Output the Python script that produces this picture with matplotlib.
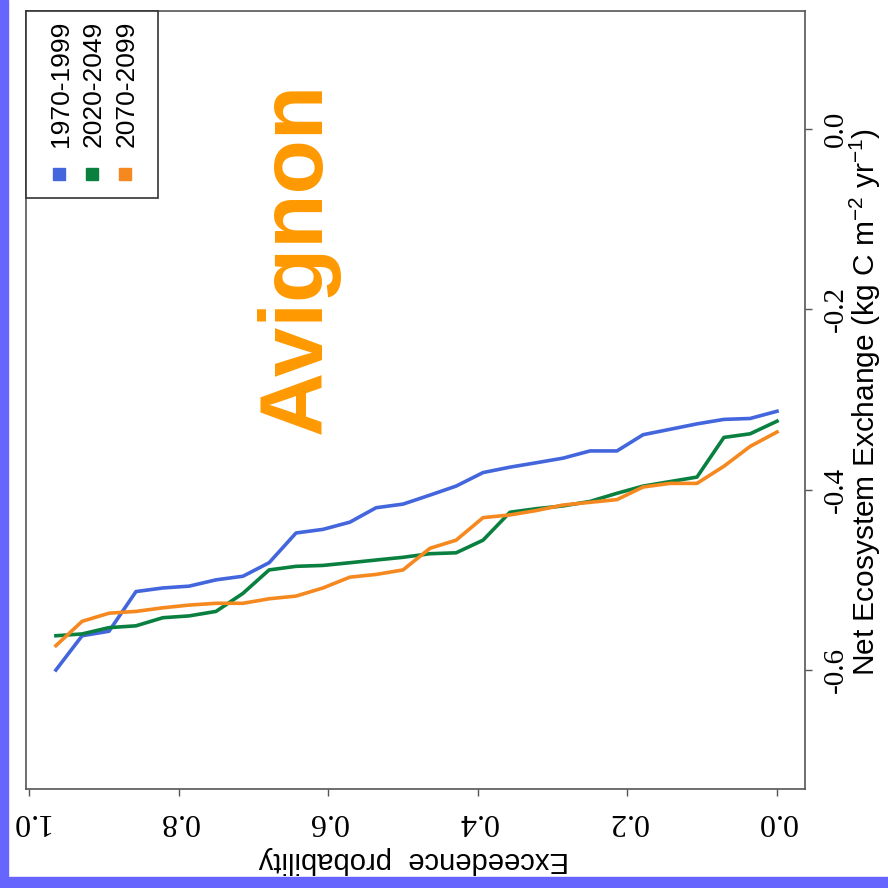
import matplotlib.pyplot as plt
from matplotlib.patches import Rectangle

# exceedance probability (plotting positions) and sorted NEE per period
prob = [0.000, 0.036, 0.071, 0.107, 0.143, 0.179, 0.214, 0.250, 0.286, 0.321,
        0.357, 0.393, 0.429, 0.464, 0.500, 0.536, 0.571, 0.607, 0.643, 0.679,
        0.714, 0.750, 0.786, 0.821, 0.857, 0.893, 0.929, 0.964]

nee_1970 = [-0.313, -0.321, -0.322, -0.327, -0.333, -0.339, -0.357, -0.357, -0.365, -0.370,
            -0.375, -0.381, -0.396, -0.406, -0.416, -0.420, -0.436, -0.444, -0.448, -0.481,
            -0.496, -0.500, -0.507, -0.509, -0.513, -0.557, -0.562, -0.600]

nee_2020 = [-0.324, -0.338, -0.342, -0.386, -0.391, -0.396, -0.404, -0.413, -0.418, -0.421,
            -0.425, -0.456, -0.470, -0.471, -0.475, -0.478, -0.481, -0.484, -0.485, -0.489,
            -0.515, -0.535, -0.540, -0.542, -0.551, -0.553, -0.560, -0.562]

nee_2070 = [-0.336, -0.352, -0.374, -0.393, -0.393, -0.397, -0.411, -0.414, -0.417, -0.423,
            -0.428, -0.431, -0.456, -0.465, -0.489, -0.494, -0.497, -0.509, -0.518, -0.521,
            -0.526, -0.526, -0.528, -0.531, -0.535, -0.537, -0.546, -0.573]

periods = ['1970-1999', '2020-2049', '2070-2099']
colores = ['#4466dd', '#0a8040', '#f5891f']
xticks = [0.0, 0.2, 0.4, 0.6, 0.8, 1.0]
yticks = [-0.6, -0.4, -0.2, 0.0]

W = 888.0


def px(x, y):
    # pixel -> figure fraction
    return x / W, 1 - y / W


fig = plt.figure(figsize=(8.88, 8.88), dpi=100)

# blue frame stripes
fig.patches.append(Rectangle((0, 0), 8 / W, 1, transform=fig.transFigure,
                             color='#6666ff', zorder=0))
fig.patches.append(Rectangle((0, 0), 1, 11 / W, transform=fig.transFigure,
                             color='#6666ff', zorder=0))

ax = fig.add_axes([26 / W, 1 - 789 / W, (805 - 26) / W, (789 - 11) / W])

for nee, c, lab in zip([nee_1970, nee_2020, nee_2070], colores, periods):
    ax.plot(prob, nee, color=c, lw=2.6, label=lab)

ax.set_xlim(1.004, -0.0374)
ax.set_ylim(-0.732, 0.131)

for s in ax.spines.values():
    s.set_color('#555555')
    s.set_linewidth(1.2)

ax.set_xticks(xticks)
ax.set_xticklabels(['%.1f' % t for t in xticks], rotation=180,
                   fontfamily='Liberation Serif', fontsize=23)
ax.yaxis.tick_right()
ax.set_yticks(yticks)
ax.set_yticklabels(['%.1f' % t for t in yticks], rotation=90, va='center',
                   fontfamily='Liberation Serif', fontsize=21)
ax.tick_params(axis='x', length=5, width=1, color='#555555', pad=8)
ax.tick_params(axis='y', length=5, width=1, color='#555555', pad=8)

# axis titles
plt.rcParams['mathtext.default'] = 'regular'
fig.text(*px(414, 860), 'Exceedence  probability', rotation=180,
         ha='center', va='center', fontfamily='Liberation Sans', fontsize=21)
fig.text(*px(865, 402), r'Net Ecosystem Exchange (kg C m$^{-2}$ yr$^{-1}$)', rotation=90,
         ha='center', va='center', fontfamily='Liberation Sans', fontsize=21.5)

# site name
fig.text(*px(298, 258), 'Avignon', rotation=90, ha='center', va='center',
         fontfamily='Liberation Sans', fontweight='bold', fontsize=64, color='#ff9900')

# legend drawn by hand (rotated)
x0, y0 = px(26, 198)
x1, y1 = px(158, 11)
fig.patches.append(Rectangle((x0, y0), x1 - x0, y1 - y0, transform=fig.transFigure,
                             facecolor='white', edgecolor='#333333', lw=1.2, zorder=5))
for xc, xs, lab, c in zip([61, 94, 127], [59, 92, 125], periods, colores):
    fig.text(*px(xc, 147), lab, rotation=90, ha='center', va='bottom',
             fontfamily='Liberation Sans', fontsize=19, zorder=6)
    sx, sy = px(xs - 6, 180)
    fig.patches.append(Rectangle((sx, sy), 12 / W, 12 / W, transform=fig.transFigure,
                                 color=c, zorder=6))

plt.savefig('out.png', dpi=100)
